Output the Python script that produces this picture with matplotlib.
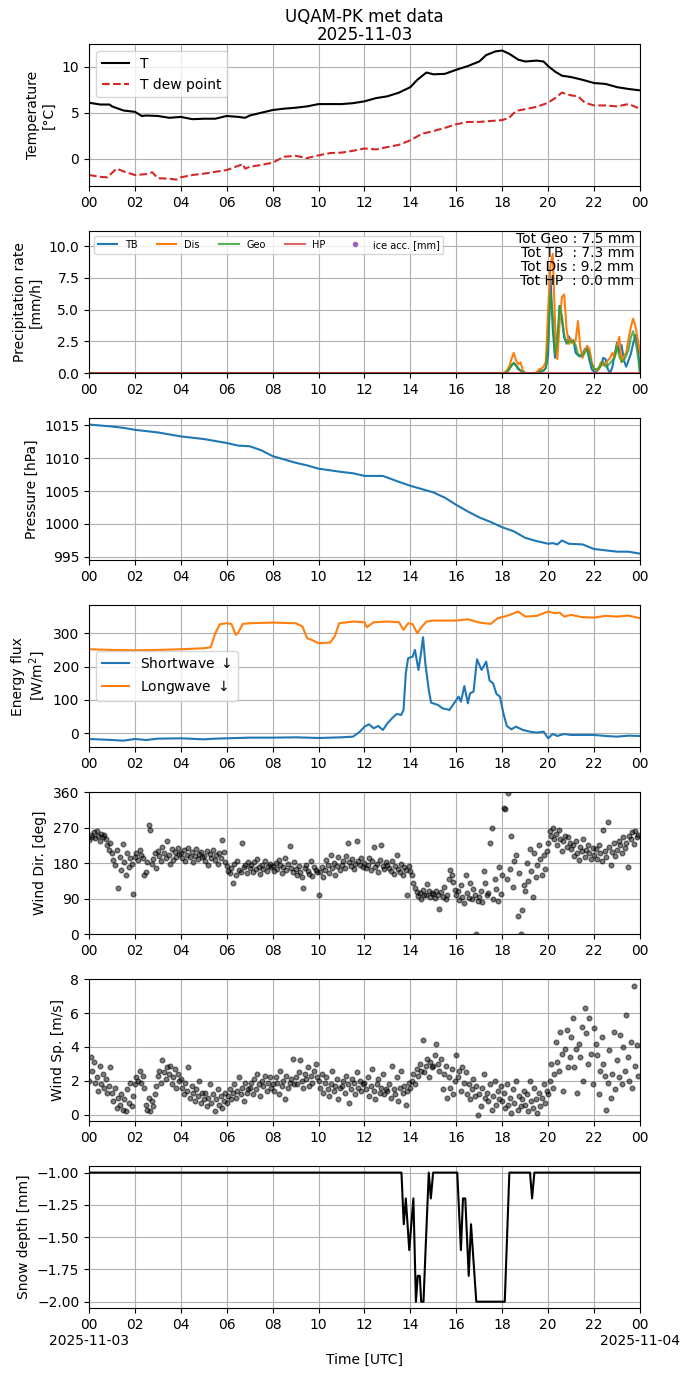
import numpy as np
import matplotlib
matplotlib.use('Agg')
import matplotlib.pyplot as plt

#--------------------Data--------------------
temp_t = [0, 0.5, 0.9, 1.0, 1.5, 2.0, 2.3, 2.5, 3.0, 3.5, 4.0, 4.5, 5.0, 5.5, 6.0, 6.5, 6.8, 7.0, 7.5,
          8.0, 8.5, 9.0, 9.5, 10.0, 11.0, 11.5, 12.0, 12.5, 13.0, 13.5, 14.0, 14.3, 14.7, 15.0, 15.5,
          16.0, 16.5, 17.0, 17.3, 17.7, 18.0, 18.3, 18.7, 19.0, 19.5, 19.8, 20.0, 20.3, 20.6, 21.0,
          21.5, 22.0, 22.5, 23.0, 23.5, 24.0]
temp = [6.1, 5.9, 5.9, 5.7, 5.25, 5.1, 4.65, 4.7, 4.65, 4.45, 4.55, 4.3, 4.35, 4.35, 4.65, 4.55, 4.45,
        4.7, 5.0, 5.3, 5.45, 5.55, 5.7, 5.95, 5.95, 6.05, 6.25, 6.6, 6.8, 7.2, 7.8, 8.6, 9.4, 9.2, 9.25,
        9.7, 10.1, 10.6, 11.3, 11.7, 11.8, 11.45, 10.8, 10.6, 10.7, 10.6, 10.1, 9.5, 9.05, 8.9,
        8.6, 8.25, 8.15, 7.8, 7.6, 7.45]

dew_t = [0, 0.5, 0.8, 1.2, 1.5, 2.0, 2.5, 2.75, 3.0, 3.5, 3.8, 4.0, 4.5, 5.0, 5.5, 6.0, 6.5, 6.7, 6.8,
         7.0, 7.5, 8.0, 8.5, 9.0, 9.5, 10.0, 10.5, 11.0, 11.5, 12.0, 12.5, 13.0, 13.5, 14.0, 14.5,
         15.0, 15.5, 16.0, 16.5, 17.0, 17.5, 18.0, 18.3, 18.6, 19.0, 19.5, 20.0, 20.3, 20.6, 21.0,
         21.3, 21.6, 22.0, 22.5, 23.0, 23.5, 24.0]
dew = [-1.8, -2.0, -2.05, -1.1, -1.4, -1.8, -1.7, -1.5, -2.15, -2.2, -2.3, -2.05, -1.8, -1.65, -1.45,
       -1.25, -0.8, -0.6, -1.1, -0.9, -0.7, -0.45, 0.2, 0.3, 0.05, 0.35, 0.6, 0.65, 0.85, 1.1, 1.0,
       1.25, 1.5, 2.0, 2.7, 3.0, 3.35, 3.75, 4.0, 4.0, 4.1, 4.2, 4.45, 5.2, 5.4, 5.65, 6.1, 6.6, 7.2,
       6.9, 6.8, 6.1, 5.8, 5.8, 5.7, 5.95, 5.45]

prec_t = [0.0] + [round(18 + 0.1 * i, 1) for i in range(61)]
prec_tb = [0.0,
           0, 0, 0.1, 0.3, 0.6, 0.8, 0.6, 0.3, 0.2, 0.05,
           0, 0, 0, 0, 0, 0, 0.1, 0.2, 0.2, 0.4,
           1.5, 7.7, 3.5, 1.2, 1.8, 5.3, 4.2, 2.8, 2.4, 2.9,
           2.4, 2.6, 1.6, 1.4, 1.3, 1.5, 1.9, 1.9, 1.0, 0.3,
           0.1, 0.1, 0.3, 0.6, 1.2, 1.1, 0.3, 0.0, 0.5, 1.5,
           2.4, 1.6, 2.2, 1.0, 0.5, 1.0, 1.5, 2.3, 3.0, 2.2, 0.1]
prec_dis = [0.0,
            0, 0.05, 0.2, 0.5, 1.1, 1.6, 1.0, 0.7, 0.85, 0.2,
            0, 0, 0, 0, 0, 0.05, 0.3, 0.35, 0.5, 0.9,
            5.0, 8.5, 9.4, 4.0, 1.1, 4.0, 6.0, 6.2, 3.5, 2.3,
            2.7, 2.3, 2.6, 4.1, 2.0, 1.2, 1.75, 2.15, 1.9, 0.85,
            0.35, 0.2, 0.35, 0.85, 0.6, 0.7, 1.0, 1.2, 1.6, 1.2,
            2.1, 2.85, 0.85, 1.35, 1.6, 2.7, 3.6, 4.3, 3.7, 2.7, 1.6]
prec_geo = [0.0,
            0, 0, 0.1, 0.3, 0.6, 0.8, 0.6, 0.4, 0.2, 0.1,
            0, 0, 0, 0, 0, 0, 0.05, 0.1, 0.2, 0.4,
            2.5, 6.3, 4.5, 1.5, 2.5, 5.3, 4.5, 3.0, 2.3, 2.5,
            2.5, 2.5, 2.2, 1.5, 1.4, 1.4, 1.6, 1.9, 1.4, 0.7,
            0.3, 0.3, 0.4, 0.7, 0.9, 0.5, 0.6, 0.8, 1.0, 1.3,
            2.1, 1.3, 0.9, 1.0, 1.4, 1.8, 2.8, 3.3, 2.5, 1.5, 0.0]
hp_t = [0, 24]
prec_hp = [0.0, 0.0]
ice_t = []
ice_acc = []
totals_txt = 'Tot Geo : 7.5 mm\nTot TB  : 7.3 mm\nTot Dis : 9.2 mm\nTot HP  : 0.0 mm'

pres_t = [0, 1, 1.5, 2, 3, 4, 5, 6, 6.5, 7, 7.5, 8, 8.5, 9, 9.5, 10, 11, 11.5, 12, 12.8, 13.5, 14,
          14.5, 15, 15.5, 16, 16.5, 17, 17.5, 18, 18.5, 19, 19.5, 20, 20.2, 20.4, 20.6, 20.9, 21.5,
          22, 22.5, 23, 23.5, 24]
pres = [1015.1, 1014.8, 1014.6, 1014.3, 1013.9, 1013.3, 1012.9, 1012.3, 1011.9, 1011.8, 1011.2,
        1010.3, 1009.8, 1009.3, 1008.9, 1008.4, 1007.9, 1007.7, 1007.3, 1007.3, 1006.4, 1005.8,
        1005.3, 1004.8, 1004.0, 1002.9, 1001.9, 1001.0, 1000.3, 999.5, 998.9, 997.9, 997.4, 997.0,
        997.1, 996.9, 997.5, 997.0, 996.9, 996.2, 996.0, 995.8, 995.8, 995.5]

lw_t = [0, 1, 2, 3, 4, 5, 5.3, 5.5, 5.7, 6.0, 6.2, 6.4, 6.5, 6.7, 7, 8, 9, 9.3, 9.5, 9.7, 10.0, 10.5,
        10.7, 10.9, 11.5, 12.0, 12.1, 12.4, 13.0, 13.5, 13.7, 13.9, 14.1, 14.3, 14.5, 14.7, 15, 16,
        16.5, 17, 17.5, 17.8, 18.2, 18.7, 19, 19.5, 20, 20.3, 20.5, 20.7, 21, 21.5, 22, 22.5, 23,
        23.5, 24]
lw = [252, 250, 249, 250, 252, 255, 258, 300, 327, 330, 328, 295, 302, 328, 330, 332, 330, 320, 285,
      280, 270, 272, 290, 330, 335, 333, 318, 333, 335, 333, 310, 330, 327, 300, 320, 335, 338, 338,
      342, 332, 328, 345, 352, 365, 350, 352, 365, 360, 362, 350, 355, 348, 347, 352, 350, 353, 345]

sw_t = [0, 1, 1.5, 2, 2.5, 3, 4, 5, 5.5, 6, 7, 8, 9, 10, 11, 11.5, 11.8, 12.0, 12.2, 12.4, 12.6,
        12.8, 13.0, 13.2, 13.4, 13.6, 13.7, 13.8, 13.9, 14.1, 14.2, 14.35, 14.45, 14.55, 14.65, 14.8,
        14.9, 15.2, 15.4, 15.7, 15.9, 16.1, 16.2, 16.35, 16.5, 16.6, 16.75, 16.9, 17.1, 17.3, 17.45,
        17.6, 17.75, 17.9, 18.05, 18.2, 18.4, 18.6, 18.9, 19.2, 19.5, 19.8, 20.0, 20.2, 20.4, 20.7,
        21, 22, 22.5, 23, 23.5, 24]
sw = [-17, -20, -22, -17, -20, -16, -15, -18, -16, -15, -13, -13, -12, -14, -12, -10, 5, 20, 27, 15,
      22, 10, 30, 45, 58, 55, 70, 180, 225, 230, 250, 190, 235, 288, 210, 130, 92, 85, 75, 70, 90,
      110, 95, 142, 90, 120, 125, 222, 190, 215, 158, 150, 118, 110, 60, 22, 12, 20, 10, 5, 2, 5,
      -15, -2, -8, -2, -5, -5, -8, -10, -7, -8]

# wind samples every 4 min, one row per hour
wdir_rows = [
    [238, 252, 247, 258, 244, 261, 249, 235, 255, 246, 252, 240, 226, 214, 232],
    [205, 188, 176, 214, 118, 196, 162, 228, 182, 150, 205, 170, 193, 178, 102],
    [196, 205, 188, 212, 200, 192, 150, 158, 183, 276, 265, 178, 190, 205, 168],
    [210, 198, 185, 222, 205, 193, 235, 200, 178, 215, 188, 207, 196, 219, 203],
    [205, 192, 212, 185, 200, 218, 196, 207, 182, 198, 215, 190, 203, 209, 196],
    [198, 185, 210, 176, 202, 193, 214, 187, 200, 178, 205, 192, 238, 208, 183],
    [172, 160, 155, 168, 130, 178, 150, 186, 163, 158, 230, 170, 176, 155, 182],
    [168, 175, 158, 182, 164, 190, 171, 153, 176, 166, 185, 160, 172, 178, 169],
    [172, 160, 180, 165, 188, 175, 156, 170, 192, 163, 178, 224, 168, 158, 183],
    [164, 150, 172, 158, 145, 116, 168, 175, 160, 152, 185, 148, 170, 162, 157],
    [100, 158, 170, 145, 162, 188, 175, 155, 200, 168, 180, 150, 172, 195, 163],
    [176, 185, 168, 198, 230, 182, 172, 190, 165, 178, 235, 186, 175, 192, 170],
    [180, 168, 175, 192, 162, 185, 222, 170, 178, 158, 188, 226, 172, 165, 183],
    [176, 168, 160, 185, 152, 172, 200, 165, 158, 178, 150, 170, 162, 100, 172],
    [160, 150, 130, 118, 108, 96, 105, 88, 112, 100, 98, 128, 110, 94, 104],
    [102, 92, 110, 98, 64, 106, 95, 120, 88, 100, 140, 162, 150, 132, 112],
    [98, 110, 86, 125, 95, 80, 150, 105, 92, 130, 88, 115, 100, 0, 85],
    [95, 110, 82, 160, 130, 98, 105, 230, 268, 90, 140, 115, 85, 170, 102],
    [150, 320, 318, 140, 358, 165, 250, 120, 185, 200, 46, 155, 0, 60, 125],
    [110, 180, 135, 215, 160, 95, 205, 145, 175, 225, 190, 150, 200, 165, 210],
    [230, 262, 248, 270, 242, 255, 225, 265, 240, 210, 235, 250, 220, 245, 232],
    [215, 225, 198, 236, 205, 188, 220, 210, 240, 195, 212, 226, 205, 190, 218],
    [200, 215, 190, 225, 205, 185, 265, 210, 195, 285, 220, 175, 208, 230, 198],
    [212, 235, 225, 205, 245, 218, 232, 170, 250, 240, 258, 228, 262, 245, 252],
]
wspd_rows = [
    [2.0, 3.4, 2.6, 3.1, 1.9, 2.2, 1.4, 2.9, 1.8, 2.4, 1.6, 2.1, 1.3, 1.7, 2.8],
    [1.3, 0.8, 1.6, 0.4, 1.0, 0.6, 1.2, 0.3, 0.9, 0.2, 1.5, 0.7, 1.9, 0.5, 1.1],
    [1.8, 2.2, 2.0, 2.6, 1.9, 2.3, 1.6, 0.6, 0.3, 1.0, 0.2, 0.8, 0.5, 1.2, 1.7],
    [2.3, 2.6, 1.9, 3.2, 2.5, 2.1, 2.8, 2.4, 2.9, 1.8, 2.2, 2.7, 1.6, 2.4, 2.0],
    [2.1, 1.6, 1.2, 1.9, 1.4, 2.8, 1.0, 1.7, 1.3, 0.8, 1.5, 1.1, 2.0, 0.7, 1.3],
    [0.9, 1.3, 0.5, 1.0, 1.8, 0.7, 1.2, 0.2, 0.9, 1.5, 0.6, 1.1, 0.4, 0.8, 1.3],
    [0.7, 1.1, 1.5, 0.9, 1.3, 1.8, 1.0, 1.4, 2.2, 1.2, 1.6, 0.8, 1.9, 1.3, 1.5],
    [1.6, 1.9, 1.2, 2.1, 1.5, 2.4, 1.8, 1.1, 2.0, 1.7, 2.3, 1.4, 1.9, 2.2, 1.6],
    [1.8, 1.4, 2.2, 1.9, 1.2, 2.6, 1.7, 2.0, 0.9, 2.3, 1.6, 1.9, 2.1, 3.3, 1.8],
    [2.2, 1.8, 2.5, 3.2, 2.0, 1.6, 2.4, 2.1, 2.8, 1.7, 2.3, 1.9, 2.6, 3.0, 2.2],
    [2.0, 1.6, 2.4, 1.3, 1.9, 2.2, 1.5, 1.1, 1.8, 2.6, 1.4, 1.7, 2.1, 0.9, 1.6],
    [1.7, 2.0, 1.3, 2.3, 1.8, 0.7, 1.5, 2.1, 1.9, 1.2, 2.5, 1.6, 2.0, 1.4, 1.8],
    [1.9, 1.5, 2.2, 1.1, 1.7, 2.7, 1.4, 0.9, 1.8, 2.1, 1.3, 1.6, 2.4, 1.2, 1.5],
    [1.4, 1.8, 1.0, 2.9, 1.5, 1.2, 2.2, 0.8, 1.6, 2.6, 1.3, 1.7, 0.6, 1.4, 1.9],
    [1.6, 2.0, 2.4, 1.8, 2.7, 2.3, 3.0, 2.6, 4.4, 2.5, 2.9, 3.3, 2.2, 3.1, 2.8],
    [2.9, 3.5, 4.2, 3.0, 2.6, 3.3, 1.5, 2.4, 2.9, 1.0, 2.2, 1.6, 2.7, 1.2, 2.0],
    [3.5, 2.2, 2.6, 1.4, 2.8, 1.9, 2.5, 1.2, 1.8, 0.9, 1.5, 2.1, 1.1, 1.7, 0.0],
    [1.2, 0.5, 1.6, 2.4, 1.0, 1.3, 0.8, 1.8, 0.3, 1.1, 2.0, 0.6, 1.4, 0.9, 1.7],
    [0.8, 1.3, 0.4, 1.8, 0.6, 1.0, 0.1, 1.5, 0.7, 2.0, 0.3, 1.1, 0.5, 0.9, 1.4],
    [0.6, 1.2, 0.2, 2.0, 0.8, 0.4, 1.6, 0.9, 0.1, 1.3, 0.5, 1.0, 1.8, 0.7, 1.4],
    [1.2, 2.0, 3.0, 1.6, 2.4, 4.3, 3.1, 2.6, 4.9, 3.6, 1.4, 3.9, 5.0, 2.8, 3.4],
    [4.6, 5.7, 2.8, 3.9, 1.3, 4.2, 3.4, 5.2, 2.0, 6.3, 4.8, 3.0, 5.7, 3.6, 1.8],
    [5.1, 4.2, 3.5, 1.2, 2.6, 4.6, 3.0, 2.3, 0.3, 1.9, 3.8, 1.0, 2.4, 4.9, 1.5],
    [3.2, 2.2, 4.7, 1.8, 4.0, 2.6, 5.9, 3.4, 2.0, 4.3, 1.6, 7.6, 2.9, 4.1, 2.3],
]

snow_t = [0, 13.61, 13.71, 13.80, 13.95, 14.13, 14.24, 14.32, 14.41, 14.47, 14.57, 14.66, 14.80,
          14.89, 14.99, 16.04, 16.20, 16.29, 16.39, 16.54, 16.64, 16.87, 18.11, 18.31, 19.21, 19.30,
          19.40, 24]
snow = [-1.0, -1.0, -1.4, -1.2, -1.6, -1.2, -2.0, -1.8, -1.8, -2.0, -2.0, -1.6, -1.0, -1.2, -1.0,
        -1.0, -1.6, -1.2, -1.2, -1.8, -1.4, -2.0, -2.0, -1.0, -1.0, -1.2, -1.0, -1.0]

hour_ticks = list(range(0, 25, 2))
hour_labels = ['%02d' % (h % 24) for h in hour_ticks]
day_start = '2025-11-03'
day_end = '2025-11-04'

#--------------------Plot--------------------
wind_t = np.arange(24 * 15) / 15.0
wdir = np.array(wdir_rows).ravel()
wspd = np.array(wspd_rows).ravel()

fig, axs = plt.subplots(7, 1, figsize=(6.9, 13.77), dpi=100)
fig.subplots_adjust(left=0.129, right=0.9275, top=0.968, bottom=0.050, hspace=0.317)

ax = axs[0]
ax.plot(temp_t, temp, color='k', label='T')
ax.plot(dew_t, dew, color='tab:red', ls='--', label='T dew point')
ax.set_ylabel('Temperature\n[°C]')
ax.legend(loc='upper left')
ax.set_title('UQAM-PK met data\n' + day_start, fontsize=12, linespacing=1.0, pad=3)

ax = axs[1]
ax.plot(prec_t, prec_tb, color='tab:blue', label='TB')
ax.plot(prec_t, prec_dis, color='tab:orange', label='Dis')
ax.plot(prec_t, prec_geo, color='tab:green', alpha=0.8, label='Geo')
ax.plot(hp_t, prec_hp, color='tab:red', alpha=0.7, label='HP')
ax.plot(ice_t, ice_acc, '.', color='tab:purple', label='ice acc. [mm]')
ax.set_ylim(0, 11.2)
ax.set_ylabel('Precipitation rate\n[mm/h]')
ax.legend(loc='upper left', ncol=5, fontsize=7)
ax.text(0.99, 0.99, totals_txt, transform=ax.transAxes, ha='right', va='top',
        multialignment='right', fontsize=10, linespacing=1.0)

ax = axs[2]
ax.plot(pres_t, pres, color='tab:blue')
ax.set_ylabel('Pressure [hPa]')

ax = axs[3]
ax.plot(sw_t, sw, color='tab:blue', label='Shortwave $\\downarrow$')
ax.plot(lw_t, lw, color='tab:orange', label='Longwave $\\downarrow$')
ax.set_ylabel('Energy flux\n[W/m$^2$]')
ax.legend(loc='center left')

ax = axs[4]
ax.plot(wind_t, wdir, 'o', color='k', alpha=0.5, ms=3.4)
ax.set_ylim(0, 360)
ax.set_yticks([0, 90, 180, 270, 360])
ax.set_ylabel('Wind Dir. [deg]')

ax = axs[5]
ax.plot(wind_t, wspd, 'o', color='k', alpha=0.5, ms=3.4)
ax.set_ylim(-0.38, 8)
ax.set_ylabel('Wind Sp. [m/s]')

ax = axs[6]
ax.plot(snow_t, snow, color='k')
ax.set_ylabel('Snow depth [mm]')
ax.set_xlabel('Time [UTC]', labelpad=15)

for ax in axs:
    ax.set_xlim(0, 24)
    ax.set_xticks(hour_ticks)
    ax.set_xticklabels(hour_labels)
    ax.grid(True)

# dates under the first and last ticks of the bottom panel
for x, lab in [(0, day_start), (24, day_end)]:
    axs[6].annotate(lab, xy=(x, 0), xycoords=('data', 'axes fraction'),
                    xytext=(0, -24), textcoords='offset points',
                    ha='center', va='center', fontsize=10)

fig.savefig('out.png', dpi=100)
